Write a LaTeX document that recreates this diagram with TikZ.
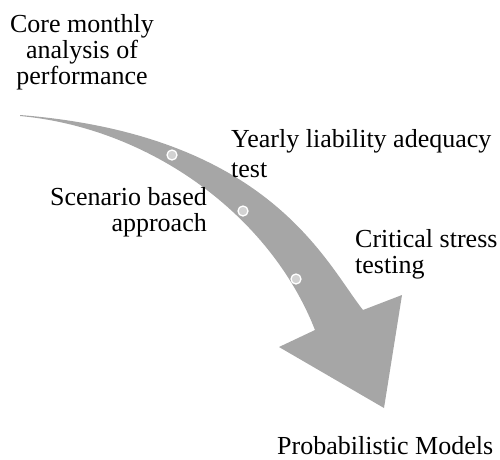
\documentclass[tikz,border=0pt]{standalone}
\usepackage{fontspec}
\setmainfont{Liberation Serif}
\usepackage{tikz}

\definecolor{bandgray}{HTML}{A6A6A6}
\definecolor{dotgray}{HTML}{D2D2D2}

\tikzset{
    lbl/.style={inner sep=0pt, font=\fontsize{26}{26}\selectfont},
    dot/.style={circle, fill=dotgray, draw=white, line width=1.3pt, minimum size=10pt, inner sep=0pt}
}

\begin{document}
\begin{tikzpicture}[x=1pt, y=-1pt]
    \useasboundingbox (0,0) rectangle (500,459);

    % curved band with its head
    \fill[bandgray] (20,115) .. controls (270,135) and (325,262) .. (363,310)
        -- (402,295) -- (384,408) -- (279,347) -- (315,330)
        .. controls (270,215) and (150,128) .. (20,116) -- cycle;

    % stops along the band
    \foreach \x/\y [count=\i] in {172/155, 243/211, 296/279} {
        \node[dot] (s\i) at (\x,\y) {};
    }

    \node[lbl, align=center, anchor=north] (core) at (82,14) {Core monthly\\analysis of\\performance};
    \node[lbl, align=left, anchor=north west] (yearly) at (231,129.5) {Yearly liability adequacy\\[3.5pt]test};
    \node[lbl, align=right, anchor=north east] (scenario) at (207,187.5) {Scenario based\\approach};
    \node[lbl, align=left, anchor=north west] (critical) at (355,229.5) {Critical stress\\testing};
    \node[lbl, anchor=north west] (prob) at (277,436.5) {Probabilistic Models};
\end{tikzpicture}
\end{document}
